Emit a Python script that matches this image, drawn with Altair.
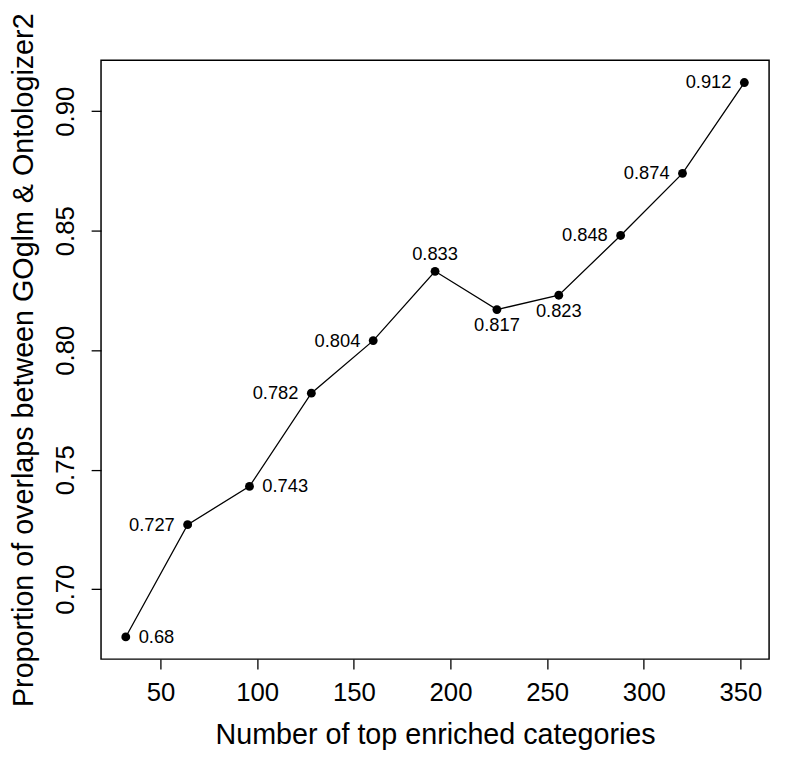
import altair as alt
import pandas as pd

# data
n_categories = [32, 64, 96, 128, 160, 192, 224, 256, 288, 320, 352]
proportion = [0.68, 0.727, 0.743, 0.782, 0.804, 0.833, 0.817, 0.823, 0.848, 0.874, 0.912]
labels = ["0.68", "0.727", "0.743", "0.782", "0.804", "0.833", "0.817", "0.823", "0.848", "0.874", "0.912"]
label_side = ["right", "left", "right", "left", "left", "above", "below", "below", "left", "left", "left"]

x_ticks = [50, 100, 150, 200, 250, 300, 350]
y_ticks = [0.70, 0.75, 0.80, 0.85, 0.90]

df = pd.DataFrame({"n": n_categories, "p": proportion, "label": labels, "side": label_side})

FONT = "Liberation Sans"

xmin, xmax = min(n_categories), max(n_categories)
ymin, ymax = min(proportion), max(proportion)
xpad = (xmax - xmin) * 0.04
ypad = (ymax - ymin) * 0.04

xs = alt.Scale(domain=[xmin - xpad, xmax + xpad], nice=False, zero=False)
ys = alt.Scale(domain=[ymin - ypad, ymax + ypad], nice=False, zero=False)

W, H = 675, 605

x_axis = alt.Axis(
    values=x_ticks, title="Number of top enriched categories", grid=False, domain=False,
    tickSize=10, tickColor="black", tickWidth=1.3, labelPadding=11,
    labelFont=FONT, labelFontSize=26, labelColor="black",
    titleFont=FONT, titleFontSize=29, titleFontWeight="normal", titleColor="black",
    titleBaseline="alphabetic", titleX=W / 2, titleY=85, titleAnchor="middle",
)
y_axis = alt.Axis(
    values=y_ticks, format=".2f", title="Proportion of overlaps between GOglm & Ontologizer2",
    grid=False, domain=False, tickSize=10, tickColor="black", tickWidth=1.3,
    labelAngle=-90, labelAlign="center", labelBaseline="alphabetic", labelPadding=18,
    labelFont=FONT, labelFontSize=26, labelColor="black",
    titleFont=FONT, titleFontSize=29, titleFontWeight="normal", titleColor="black",
    titleAngle=-90, titleBaseline="alphabetic", titleX=-69, titleY=H / 2, titleAlign="center",
)

base = alt.Chart(df)

line = base.mark_line(color="black", strokeWidth=1.3).encode(
    x=alt.X("n:Q", scale=xs, axis=x_axis),
    y=alt.Y("p:Q", scale=ys, axis=y_axis),
)
pts = base.mark_circle(color="black", opacity=1, size=80).encode(
    x=alt.X("n:Q", scale=xs), y=alt.Y("p:Q", scale=ys)
)

def text_layer(side, align, dx, dy):
    return base.transform_filter(alt.datum.side == side).mark_text(
        font=FONT, fontSize=18.5, color="black", align=align, baseline="middle", dx=dx, dy=dy
    ).encode(x=alt.X("n:Q", scale=xs), y=alt.Y("p:Q", scale=ys), text="label:N")

texts = [
    text_layer("right", "left", 13, 0),
    text_layer("left", "right", -13, 0),
    text_layer("above", "center", 0, -17),
    text_layer("below", "center", 0, 16),
]

chart = alt.layer(line, pts, *texts).properties(
    width=W, height=H,
    autosize=alt.AutoSizeParams(type="none"),
    padding={"left": 94, "top": 49, "right": 8, "bottom": 95},
    background="white",
).configure_view(stroke="black", strokeWidth=1.5)

chart.save("out.html", embed_options={"renderer": "svg", "actions": False})
